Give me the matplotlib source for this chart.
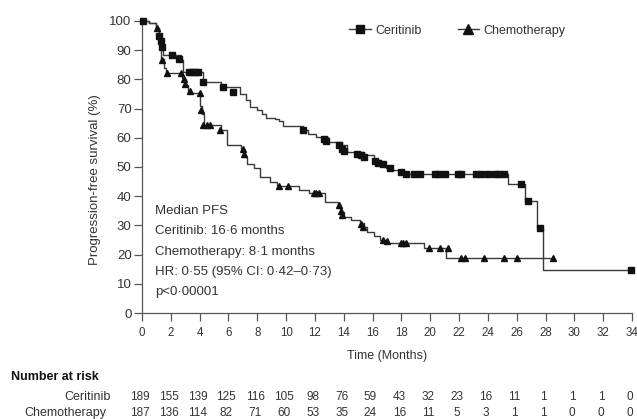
import matplotlib
matplotlib.use("Agg")
import matplotlib.pyplot as plt
from matplotlib.transforms import blended_transform_factory
from matplotlib.lines import Line2D

plt.rcParams['font.family'] = ['Liberation Sans', 'DejaVu Sans']

# ---- data ----
cer_t = [0, 0.5, 1.0, 1.15, 1.25, 1.35, 1.45, 2.7, 2.85, 4.2, 5.5, 6.8, 7.2, 7.5, 8.0, 8.3, 8.6,
         9.2, 9.5, 9.8, 11.2, 11.5, 12.1, 12.9, 13.9, 14.2, 15.4, 16.1, 16.6, 16.9, 17.3, 18.2,
         25.4, 26.6, 27.4, 27.8, 34.0]
cer_s = [100, 99.4, 97, 95, 93, 91, 88.5, 86.5, 82.5, 79, 77.5, 75, 73, 70.7, 69.4, 68.2, 66.8,
         66.4, 65.6, 64.1, 62.7, 61.3, 60.1, 58.5, 57.5, 55, 54, 52.3, 51, 49.6, 49, 47.7,
         44, 38.4, 29, 14.7, 14.7]
cer_cens_t = [0.05, 1.2, 1.3, 1.4, 2.1, 2.55, 3.25, 3.5, 3.7, 3.9, 4.2, 5.6, 6.3,
              11.2, 12.6, 12.8, 13.7, 13.9, 14.0, 14.9, 15.2, 15.4, 16.2, 16.4, 16.7, 17.2,
              18.0, 18.3, 18.9, 19.3, 20.3, 20.6, 21.0, 21.9, 22.1, 23.2, 23.5, 24.0, 24.5,
              24.8, 25.1, 26.3, 26.8, 27.6, 33.9]
cer_cens_s = [100, 95, 93, 91, 88.3, 86.8, 82.5, 82.5, 82.5, 82.5, 79, 77.5, 75.5,
              62.7, 59.5, 59, 57.5, 56, 55.5, 54.5, 54, 53.5, 52, 51.5, 51, 49.5,
              48.4, 47.7, 47.7, 47.7, 47.7, 47.7, 47.7, 47.7, 47.7, 47.7, 47.7, 47.7, 47.7,
              47.7, 47.7, 44, 38.4, 29, 14.7]

chem_t = [0, 0.5, 1.0, 1.2, 1.3, 1.5, 1.65, 2.8, 3.0, 3.2, 4.05, 4.15, 4.3, 5.5, 5.9, 6.9, 7.1,
          7.3, 7.8, 8.2, 8.9, 9.4, 10.9, 11.6, 12.7, 13.6, 13.8, 14.0, 14.5, 15.1, 15.4, 15.6,
          16.1, 16.5, 16.9, 19.6, 21.1, 28.5]
chem_s = [100, 99.4, 97.5, 92, 87, 84, 82.3, 80.4, 78, 75.3, 71, 68, 64.4, 62.7, 57.5, 56, 53.5,
          51, 49.6, 46.7, 45, 43.5, 42.1, 41, 38.1, 36, 34.5, 33, 31.9, 30.7, 29.5, 27.8,
          26.2, 25, 23.9, 22.1, 18.7, 18.7]
chem_cens_t = [1.05, 1.4, 1.75, 2.7, 2.9, 3.0, 3.3, 4.0, 4.1, 4.2, 4.5, 4.7, 5.4, 7.0, 7.1,
               9.5, 10.1, 11.9, 12.1, 12.3, 13.7, 13.8, 13.9, 15.2, 15.3, 16.7, 17.0,
               18.0, 18.1, 18.3, 19.9, 20.7, 21.2, 22.1, 22.4, 23.7, 25.1, 26.0, 28.5]
chem_cens_s = [97.5, 86.6, 82.3, 82.3, 80, 78.5, 76, 75.3, 69.6, 64.4, 64.4, 64.4, 62.7, 56, 54.5,
               43.5, 43.5, 41, 41, 41, 37, 35, 33.5, 30.5, 29.5, 25, 24.5,
               23.9, 23.9, 23.9, 22.1, 22.1, 22.1, 18.7, 18.7, 18.7, 18.7, 18.7, 18.7]

risk_times = [0, 2, 4, 6, 8, 10, 12, 14, 16, 18, 20, 22, 24, 26, 28, 30, 32, 34]
risk_cer = [189, 155, 139, 125, 116, 105, 98, 76, 59, 43, 32, 23, 16, 11, 1, 1, 1, 0]
risk_chem = [187, 136, 114, 82, 71, 60, 53, 35, 24, 16, 11, 5, 3, 1, 1, 0, 0, 0]

y_ticks = [0, 10, 20, 30, 40, 50, 60, 70, 80, 90, 100]
annot_lines = ["Median PFS", "Ceritinib: 16\u00b76 months", "Chemotherapy: 8\u00b71 months",
               "HR: 0\u00b755 (95% CI: 0\u00b742\u20130\u00b773)", "p<0\u00b700001"]

W, H = 637, 419
fig = plt.figure(figsize=(W / 100, H / 100), dpi=100)
ax = fig.add_axes([142 / W, 1 - 313 / H, 490 / W, 295 / H])

line_col = '#3a3a3a'
txt_col = '#333333'
ax.step(cer_t, cer_s, where='post', color=line_col, lw=1.0, zorder=3)
ax.step(chem_t, chem_s, where='post', color=line_col, lw=1.0, zorder=3)
ax.plot(cer_cens_t, cer_cens_s, ls='none', marker='s', ms=4.3, color='#111111', zorder=4,
        clip_on=False)
ax.plot(chem_cens_t, chem_cens_s, ls='none', marker='^', ms=4.5, color='#111111', zorder=4,
        clip_on=False)

ax.set_xlim(0, 34)
ax.set_ylim(0, 101)
ax.set_xticks(risk_times)
ax.set_yticks(y_ticks)
for s in ['top', 'right']:
    ax.spines[s].set_visible(False)
for s in ['left', 'bottom']:
    ax.spines[s].set_color('#555555')
    ax.spines[s].set_linewidth(0.9)
ax.tick_params(axis='both', direction='out', length=6, width=0.9, color='#555555',
               labelcolor=txt_col)
ax.tick_params(axis='y', labelsize=9.5, pad=1.5)
ax.tick_params(axis='x', labelsize=8.3, pad=4)
ax.set_ylabel('Progression-free survival (%)', fontsize=9.5, color=txt_col)
ax.yaxis.set_label_coords((101 - 142) / 490, (313 - 180) / 295)
ax.set_xlabel('Time (Months)', fontsize=9, color=txt_col, labelpad=8)

# legend
handles = [Line2D([0], [0], color=line_col, lw=1.0, marker='s', ms=5.5, markerfacecolor='#111111',
                  markeredgecolor='#111111'),
           Line2D([0], [0], color=line_col, lw=1.0, marker='^', ms=6.5, markerfacecolor='#111111',
                  markeredgecolor='#111111')]
ax.legend(handles, ['Ceritinib', 'Chemotherapy'], loc='upper left',
          bbox_to_anchor=((338 - 142) / 490, 1.015), ncol=2, frameon=False, fontsize=9,
          handlelength=1.75, handletextpad=0.3, columnspacing=2.9, labelcolor=txt_col)

# annotation block
for i, txt in enumerate(annot_lines):
    fig.text(155 / W, 1 - (211 + i * 20.3) / H, txt, fontsize=9.5, color=txt_col,
             va='center', ha='left')

# numbers at risk
tr = blended_transform_factory(ax.transData, fig.transFigure)
fig.text(11 / W, 1 - 377 / H, 'Number at risk', fontsize=9, fontweight='bold', color='#111111',
         va='center', ha='left')
fig.text(111 / W, 1 - 397 / H, 'Ceritinib', fontsize=9, color=txt_col, va='center', ha='right')
fig.text(106 / W, 1 - 413 / H, 'Chemotherapy', fontsize=9, color=txt_col, va='center',
         ha='right')
for t, a, b in zip(risk_times, risk_cer, risk_chem):
    ax.text(t - 0.15, 1 - 397 / H, str(a), transform=tr, fontsize=8.5, color=txt_col,
            ha='center', va='center')
    ax.text(t - 0.15, 1 - 413 / H, str(b), transform=tr, fontsize=8.5, color=txt_col,
            ha='center', va='center')

fig.savefig('out.png', dpi=100)
